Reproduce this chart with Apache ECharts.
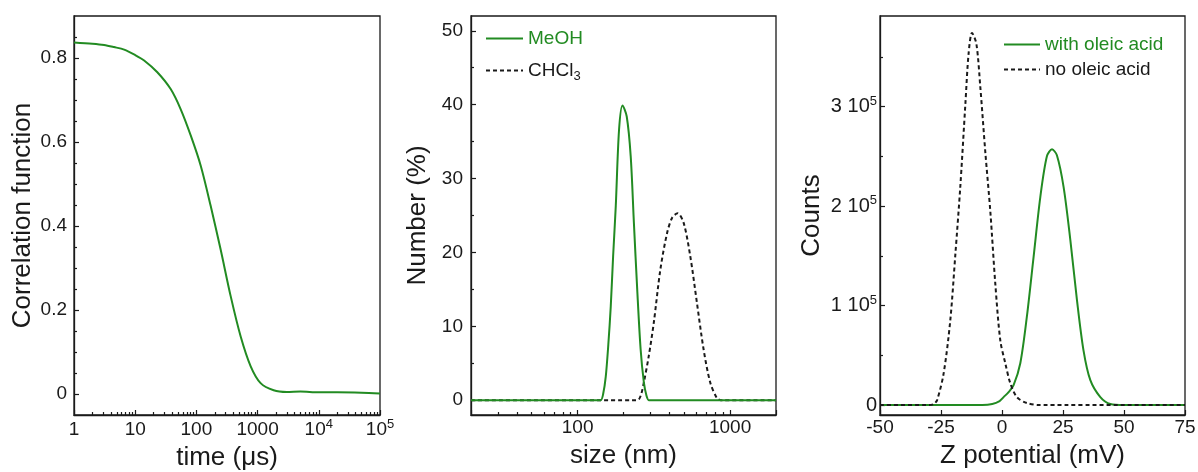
<!DOCTYPE html>
<html>
<head>
<meta charset="utf-8">
<script src="https://cdn.jsdelivr.net/npm/echarts@6/dist/echarts.min.js"></script>
<style>
  html, body { margin: 0; padding: 0; background: #ffffff; }
  #chart { width: 1198px; height: 472px; }
</style>
</head>
<body>
<div id="chart"></div>
<script>
// Panel 1: DLS correlation function vs lag time (µs)
const corrTime  = [1, 2, 3.1, 4.5, 6.6, 10, 14, 23, 38, 55, 81, 118, 171, 249, 363, 529, 771, 1120, 1830, 3000, 5000, 10000, 20000, 50000, 100000];
const corrValue = [0.837, 0.834, 0.831, 0.826, 0.820, 0.807, 0.794, 0.766, 0.726, 0.679, 0.615, 0.543, 0.448, 0.344, 0.233, 0.137, 0.066, 0.026, 0.009, 0.005, 0.006, 0.004, 0.004, 0.003, 0.001];
const corrTicks = [0, 0.2, 0.4, 0.6, 0.8];
const corrMinorTicks = [0.05, 0.1, 0.15, 0.25, 0.3, 0.35, 0.45, 0.5, 0.55, 0.65, 0.7, 0.75, 0.85];

// Panel 2: number size distribution (nm)
const sizeMeOH = [20, 100, 136, 142, 147, 153, 159, 165, 171, 178, 187, 197, 210, 223, 234, 246, 259, 272, 283, 293, 300, 2000];
const numMeOH  = [0, 0, 0, 0, 0.8, 3.2, 7.5, 12.7, 19.5, 26.3, 36.6, 39.9, 38.4, 33, 24, 15, 6.9, 2.4, 0.6, 0, 0, 0];
const sizeCHCl3 = [20, 230, 240, 252, 262, 272, 293, 316, 349, 386, 417, 453, 496, 548, 606, 670, 741, 819, 870, 900, 2000];
const numCHCl3  = [0, 0, 0, 0.1, 0.9, 2.4, 6, 10.5, 17.7, 22.6, 24.7, 25.3, 24, 19.5, 13.2, 6.9, 2.4, 0.3, 0, 0, 0];
const numberTicks = [0, 10, 20, 30, 40, 50];
const numberMinorTicks = [5, 15, 25, 35, 45];

// Panel 3: zeta potential distribution (mV)
const zetaWith   = [-50, -10, -8, -4, -1, 0.66, 2.7, 4.75, 7.5, 10.2, 12.95, 15.7, 18.4, 20.5, 22.5, 25.25, 28, 30.7, 33.4, 36.2, 40.3, 44.4, 50, 52, 75];
const countsWith = [0, 0, 0, 1000, 4000, 8000, 13000, 20000, 42000, 89000, 149000, 209000, 250000, 257000, 251000, 219000, 166000, 106000, 55000, 25000, 8000, 1000, 0, 0, 0];
const zetaNo   = [-50, -32, -30, -28, -26.6, -23.9, -21.2, -19.1, -17.1, -15.0, -13.7, -12.3, -10.5, -8.9, -6.8, -4.8, -2.75, -0.7, 1.35, 3.4, 6.1, 10.2, 15.7, 18, 75];
const countsNo = [0, 0, 0, 1000, 5000, 32000, 85000, 152000, 219000, 303000, 353000, 374000, 363000, 320000, 253000, 195000, 122000, 65000, 42000, 22000, 8000, 2000, 0, 0, 0];
const zetaTicks = [-50, -25, 0, 25, 50, 75];
const countsTicks = [0, 100000, 200000, 300000];
const countsMinorTicks = [50000, 150000, 250000, 350000];

const FONT = '"Liberation Sans", Arial, Helvetica, sans-serif';
const INK = '#1a1a1a';
const GREEN = '#228b22';

const pairs = (xs, ys) => xs.map((x, i) => [x, ys[i]]);

const baseText = { fontSize: 19, lineHeight: 24, fontFamily: FONT, color: INK };
const supText = { fontSize: 13, lineHeight: 13, verticalAlign: 'top', fontFamily: FONT, color: INK };
const subText = { fontSize: 13, lineHeight: 13, verticalAlign: 'bottom', fontFamily: FONT, color: INK };

const lineStyle = { color: INK, width: 1.3 };
const tickStyle = { color: INK, width: 1.2 };

function mainAxis(opts) {
  return Object.assign({
    nameLocation: 'middle',
    nameTextStyle: { fontSize: 26, fontFamily: FONT, color: INK },
    axisLine: { show: true, onZero: false, lineStyle: lineStyle },
    axisTick: { show: true, inside: true, length: 5, lineStyle: tickStyle },
    splitLine: { show: false },
    minorSplitLine: { show: false }
  }, opts);
}

// Axis that only carries the short intermediate ticks
function minorAxis(opts, values) {
  return Object.assign({
    axisLine: { show: false, onZero: false },
    axisLabel: { show: false },
    axisTick: { show: true, inside: true, length: 3, lineStyle: tickStyle, customValues: values },
    splitLine: { show: false }
  }, opts);
}

const frame = { show: true, borderColor: INK, borderWidth: 1.3, backgroundColor: 'transparent', outerBoundsMode: 'none', containLabel: false };

const smoothLine = (name, xi, yi, data, color, dashed) => ({
  name: name, type: 'line', xAxisIndex: xi, yAxisIndex: yi,
  data: data, symbol: 'none', smooth: 0.3,
  lineStyle: { color: color, width: 2, type: dashed ? [4, 3] : 'solid' },
  itemStyle: { color: color }
});

const option = {
  animation: false,
  backgroundColor: '#ffffff',
  textStyle: { fontFamily: FONT, color: INK },
  grid: [
    Object.assign({ left: 74, top: 16, width: 306, height: 399 }, frame),
    Object.assign({ left: 471, top: 16, width: 305, height: 399 }, frame),
    Object.assign({ left: 880, top: 16, width: 305, height: 399 }, frame)
  ],
  xAxis: [
    mainAxis({
      type: 'log', logBase: 10, gridIndex: 0, position: 'bottom', min: 1, max: 100000,
      name: 'time (\u03bcs)', nameGap: 28,
      minorTick: { show: true, splitNumber: 9, length: 3, lineStyle: tickStyle },
      axisLabel: {
        margin: 3, color: INK,
        formatter: v => v >= 10000 ? '{b|10}{s|' + Math.round(Math.log10(v)) + '}' : '{b|' + v + '}',
        rich: { b: baseText, s: supText }
      }
    }),
    mainAxis({
      type: 'log', logBase: 10, gridIndex: 1, position: 'bottom', min: 20, max: 2000,
      name: 'size (nm)', nameGap: 28,
      minorTick: { show: true, splitNumber: 9, length: 3, lineStyle: tickStyle },
      axisLabel: {
        margin: 3, color: INK, fontSize: 19, fontFamily: FONT,
        showMinLabel: false, showMaxLabel: false,
        formatter: v => String(v)
      }
    }),
    mainAxis({
      type: 'value', gridIndex: 2, position: 'bottom', min: -50, max: 75,
      name: 'Z potential (mV)', nameGap: 28,
      axisTick: { show: true, inside: true, length: 5, lineStyle: tickStyle, customValues: zetaTicks },
      axisLabel: { margin: 3, color: INK, fontSize: 19, fontFamily: FONT, customValues: zetaTicks }
    })
  ],
  yAxis: [
    mainAxis({
      type: 'value', gridIndex: 0, position: 'left', min: -0.05, max: 0.9,
      name: 'Correlation function', nameGap: 38,
      axisTick: { show: true, inside: true, length: 5, lineStyle: tickStyle, customValues: corrTicks },
      axisLabel: { margin: 7, color: INK, fontSize: 19, fontFamily: FONT, customValues: corrTicks,
        formatter: v => v === 0 ? '0' : v.toFixed(1) }
    }),
    minorAxis({ type: 'value', gridIndex: 0, position: 'left', min: -0.05, max: 0.9 }, corrMinorTicks),
    mainAxis({
      type: 'value', gridIndex: 1, position: 'left', min: -2, max: 52,
      name: 'Number (%)', nameGap: 40,
      axisTick: { show: true, inside: true, length: 5, lineStyle: tickStyle, customValues: numberTicks },
      axisLabel: { margin: 8, color: INK, fontSize: 19, fontFamily: FONT, customValues: numberTicks }
    }),
    minorAxis({ type: 'value', gridIndex: 1, position: 'left', min: -2, max: 52 }, numberMinorTicks),
    mainAxis({
      type: 'value', gridIndex: 2, position: 'left', min: -10000, max: 391000,
      name: 'Counts', nameGap: 55,
      axisTick: { show: true, inside: true, length: 5, lineStyle: tickStyle, customValues: countsTicks },
      axisLabel: {
        margin: 3, color: INK, customValues: countsTicks,
        formatter: v => v === 0 ? '{b|0}' : '{b|' + Math.round(v / 100000) + ' 10}{s|5}',
        rich: { b: { fontSize: 20, lineHeight: 24, fontFamily: FONT, color: INK }, s: supText }
      }
    }),
    minorAxis({ type: 'value', gridIndex: 2, position: 'left', min: -10000, max: 391000 }, countsMinorTicks)
  ],
  legend: [
    {
      orient: 'vertical', left: 485, top: 29, padding: 0, itemWidth: 37, itemHeight: 14, itemGap: 13,
      itemStyle: { opacity: 0 },
      data: [
        { name: 'MeOH', textStyle: { color: GREEN } },
        { name: 'CHCl3', textStyle: { color: INK } }
      ],
      textStyle: { fontSize: 19, fontFamily: FONT, rich: { b: baseText, d: subText } },
      formatter: name => name === 'CHCl3' ? '{b|CHCl}{d|3}' : name
    },
    {
      orient: 'vertical', left: 1003, top: 35, padding: 0, itemWidth: 36, itemHeight: 14, itemGap: 6,
      itemStyle: { opacity: 0 },
      data: [
        { name: 'with oleic acid', textStyle: { color: GREEN } },
        { name: 'no oleic acid', textStyle: { color: INK } }
      ],
      textStyle: { fontSize: 19, fontFamily: FONT }
    }
  ],
  series: [
    smoothLine('correlation', 0, 0, pairs(corrTime, corrValue), GREEN, false),
    smoothLine('CHCl3', 1, 2, pairs(sizeCHCl3, numCHCl3), INK, true),
    smoothLine('MeOH', 1, 2, pairs(sizeMeOH, numMeOH), GREEN, false),
    smoothLine('with oleic acid', 2, 4, pairs(zetaWith, countsWith), GREEN, false),
    smoothLine('no oleic acid', 2, 4, pairs(zetaNo, countsNo), INK, true)
  ]
};

const chart = echarts.init(document.getElementById('chart'), null, { renderer: 'canvas' });
chart.setOption(option);
</script>
</body>
</html>
